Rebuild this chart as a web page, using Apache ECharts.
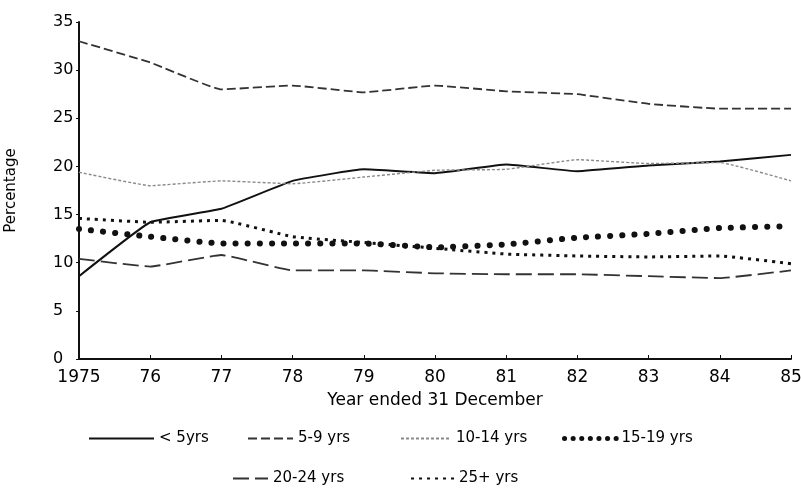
<!DOCTYPE html>
<html>
<head>
<meta charset="utf-8">
<script src="https://cdn.jsdelivr.net/npm/echarts@6/dist/echarts.min.js"></script>
<style>
  html, body { margin: 0; padding: 0; background: #fff; }
  #chart { width: 801px; height: 495px; }
</style>
</head>
<body>
<div id="chart"></div>
<script>
// years on the x axis
const years = ['1975', '76', '77', '78', '79', '80', '81', '82', '83', '84', '85']
const yTicks = [0, 5, 10, 15, 20, 25, 30, 35]

// percentage of each age group
const under5 = [8.6, 14.2, 15.6, 18.5, 19.7, 19.3, 20.2, 19.5, 20.1, 20.5, 21.2]
const age5to9 = [33.0, 30.8, 28.0, 28.4, 27.7, 28.4, 27.8, 27.5, 26.5, 26.0, 26.0]
const age10to14 = [19.4, 18.0, 18.5, 18.2, 18.9, 19.6, 19.7, 20.7, 20.3, 20.4, 18.5]
const age15to19 = [13.5, 12.7, 12.0, 12.0, 12.0, 11.6, 11.9, 12.6, 13.0, 13.6, 13.8]
const age20to24 = [10.4, 9.6, 10.8, 9.2, 9.2, 8.9, 8.8, 8.8, 8.6, 8.4, 9.2]
const age25plus = [14.6, 14.2, 14.4, 12.7, 12.1, 11.5, 10.9, 10.7, 10.6, 10.7, 9.9]

const font = 'DejaVu Sans'
const ink = '#000'

// one legend per entry so each can sit where the original put it
function legendItem (name, left, top, width, lineStyle) {
  return {
    data: [name],
    left: left,
    top: top,
    padding: 0,
    itemWidth: width,
    itemHeight: 14,
    itemStyle: { opacity: 0 },
    lineStyle: lineStyle || {},
    textStyle: { fontFamily: font, fontSize: 15, color: ink }
  }
}

function line (name, data, lineStyle) {
  return {
    name: name,
    type: 'line',
    data: data,
    symbol: 'none',
    smooth: 0.1,
    lineStyle: lineStyle,
    itemStyle: { color: lineStyle.color }
  }
}

const option = {
  animation: false,
  backgroundColor: '#fff',
  grid: { left: 79, right: 10, top: 22, bottom: 136, outerBoundsMode: 'none' },
  legend: [
    legendItem('< 5yrs', 88, 431, 65),
    legendItem('5-9 yrs', 247, 431, 45),
    legendItem('10-14 yrs', 400, 431, 50),
    legendItem('15-19 yrs', 562, 431, 52, { width: 5, type: [0.1, 8.5], cap: 'round' }),
    legendItem('20-24 yrs', 232, 471, 35),
    legendItem('25+ yrs', 410, 471, 43)
  ],
  xAxis: {
    type: 'category',
    data: years,
    boundaryGap: false,
    name: 'Year ended 31 December',
    nameLocation: 'middle',
    nameGap: 33,
    nameTextStyle: { fontFamily: font, fontSize: 17, color: ink },
    axisLine: { lineStyle: { color: '#111', width: 2 } },
    axisTick: { inside: true, length: 4, lineStyle: { color: '#111' } },
    axisLabel: { margin: 10, fontFamily: font, fontSize: 17, color: ink },
    splitLine: { show: false }
  },
  yAxis: {
    type: 'value',
    min: 0,
    max: 35,
    interval: 5,
    name: 'Percentage',
    nameLocation: 'middle',
    nameGap: 60,
    nameTextStyle: { fontFamily: font, fontSize: 15, color: ink },
    axisLine: { show: true, lineStyle: { color: '#111', width: 2 } },
    axisTick: { show: true, length: 3, lineStyle: { color: '#111' } },
    axisLabel: {
      margin: 26,
      align: 'left',
      padding: [0, 0, 8, 0],
      fontFamily: font,
      fontSize: 16,
      color: ink,
      formatter: v => yTicks.indexOf(v) >= 0 ? String(v) : ''
    },
    splitLine: { show: false }
  },
  series: [
    line('< 5yrs', under5, { color: '#111', width: 2, type: 'solid' }),
    line('5-9 yrs', age5to9, { color: '#333', width: 1.8, type: [9, 4] }),
    line('10-14 yrs', age10to14, { color: '#8a8a8a', width: 1.4, type: [3, 2] }),
    line('15-19 yrs', age15to19, { color: '#111', width: 6, type: [0.1, 12], cap: 'round' }),
    line('20-24 yrs', age20to24, { color: '#333', width: 1.8, type: [16, 6] }),
    line('25+ yrs', age25plus, { color: '#111', width: 3, type: [3, 5] })
  ]
}

const chart = echarts.init(document.getElementById('chart'))
chart.setOption(option)
</script>
</body>
</html>
